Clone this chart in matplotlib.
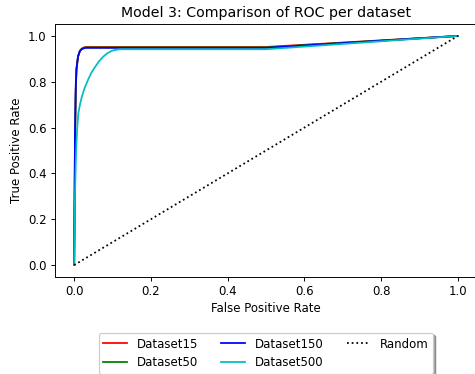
import matplotlib
matplotlib.use("Agg")
import matplotlib.pyplot as plt

labels = ["Dataset15", "Dataset50", "Dataset150", "Dataset500"]
colors = ["red", "green", "blue", "c"]

fpr15 = [0, 0.002, 0.004, 0.006, 0.01, 0.015, 0.02, 0.025, 0.032, 0.5, 1.0]
tpr15 = [0, 0.50, 0.75, 0.85, 0.91, 0.935, 0.945, 0.950, 0.952, 0.952, 1.0]

fpr50 = [0, 0.002, 0.004, 0.006, 0.01, 0.015, 0.02, 0.025, 0.032, 0.5, 1.0]
tpr50 = [0, 0.52, 0.76, 0.855, 0.91, 0.935, 0.944, 0.948, 0.950, 0.950, 1.0]

fpr150 = [0, 0.002, 0.004, 0.006, 0.01, 0.015, 0.02, 0.03, 0.5, 1.0]
tpr150 = [0, 0.55, 0.78, 0.86, 0.91, 0.935, 0.943, 0.948, 0.948, 1.0]

fpr500 = [0, 0.002, 0.005, 0.008, 0.011, 0.015, 0.02, 0.027, 0.036, 0.045,
          0.055, 0.065, 0.076, 0.087, 0.098, 0.11, 0.12, 0.5, 1.0]
tpr500 = [0, 0.30, 0.50, 0.60, 0.664, 0.70, 0.735, 0.772, 0.808, 0.84,
          0.866, 0.89, 0.91, 0.925, 0.935, 0.940, 0.942, 0.942, 1.0]

rand_x = [0, 1]
rand_y = [0, 1]

DPI = 85
fig = plt.figure(figsize=(475/DPI, 374/DPI), dpi=DPI)
ax = fig.add_axes([55/475, 1 - 276.5/374, 422/475, 252/374])

for fx, ty, lab, col in zip([fpr15, fpr50, fpr150, fpr500],
                            [tpr15, tpr50, tpr150, tpr500], labels, colors):
    ax.plot(fx, ty, color=col, label=lab, lw=1.5)
ax.plot(rand_x, rand_y, "k:", label="Random", lw=1.5)

ax.set_xlim(-0.05, 1.05)
ax.set_ylim(-0.05, 1.05)
ax.set_xticks([0, 0.2, 0.4, 0.6, 0.8, 1.0])
ax.set_yticks([0, 0.2, 0.4, 0.6, 0.8, 1.0])
ax.set_xlabel("False Positive Rate")
ax.set_ylabel("True Positive Rate")
ax.set_title("Model 3: Comparison of ROC per dataset")
ax.legend(loc="upper center", bbox_to_anchor=(0.5, -0.2), ncol=3, shadow=True)

fig.savefig("out.png", dpi=DPI)
